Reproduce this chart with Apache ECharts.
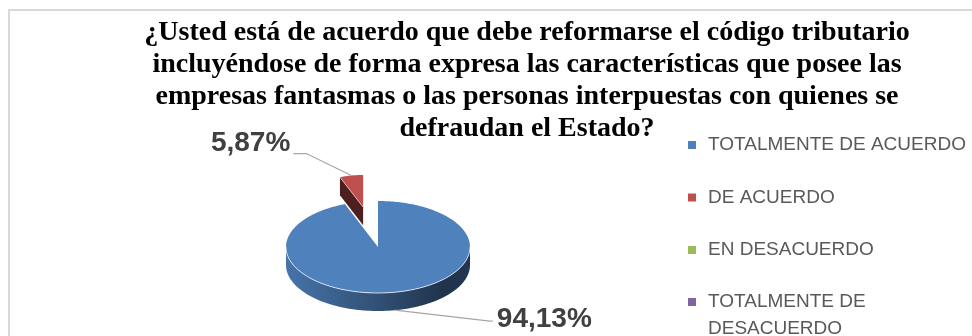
<!DOCTYPE html>
<html><head><meta charset="utf-8">
<script src="https://cdn.jsdelivr.net/npm/echarts@6/dist/echarts.min.js"></script>
<style>html,body{margin:0;padding:0;background:#fff}#c{width:972px;height:336px}</style>
</head><body><div id="c"></div>
<script>
const titleText = '¿Usted está de acuerdo que debe reformarse el código tributario\nincluyéndose de forma expresa las características que posee las\nempresas fantasmas o las personas interpuestas con quienes se\ndefraudan el Estado?';
const categories = ['TOTALMENTE DE ACUERDO', 'DE ACUERDO', 'EN DESACUERDO', 'TOTALMENTE DE DESACUERDO'];
const values = [94.13, 5.87, 0, 0];
const colors = ['#4F81BD', '#C0504D', '#9BBB59', '#8064A2'];
const explodeDist = [0, 81, 0, 0];
const sliceScale = [1, 0.7, 1, 1];
const leaderOffset = [[95, 11, 3], [-45, -22, -13], [0, 0, 0], [0, 0, 0]];
const labelDy = [-2, -10, 0, 0];

const PIE = { cx: 378, cy: 247, rx: 92, ry: 46, depth: 18 };
const total = values.reduce((a, b) => a + b, 0);

function fmtPct(v) { return v.toFixed(2).replace('.', ',') + '%'; }
function shade(hex, f) {
  const n = parseInt(hex.slice(1), 16);
  const r = (n >> 16) & 255, g = (n >> 8) & 255, b = n & 255;
  const c = x => Math.max(0, Math.min(255, Math.round(x * f)));
  return 'rgb(' + c(r) + ',' + c(g) + ',' + c(b) + ')';
}

function renderItem(params, api) {
  const i = params.seriesIndex;
  const v = api.value(0);
  if (!v) return { type: 'group', children: [] };
  let before = 0;
  for (let k = 0; k < i; k++) before += values[k];
  const a0 = before / total * 2 * Math.PI, a1 = (before + v) / total * 2 * Math.PI;
  const am = (a0 + a1) / 2;
  const ratio = PIE.ry / PIE.rx;
  const sx = PIE.cx + explodeDist[i] * Math.sin(am);
  const sy = PIE.cy - explodeDist[i] * Math.cos(am) * ratio;
  const Rx = PIE.rx * sliceScale[i], Ry = PIE.ry * sliceScale[i], D = PIE.depth;
  const pt = (a, dy) => [sx + Rx * Math.sin(a), sy - Ry * Math.cos(a) + (dy || 0)];
  const arc = (lo, hi, dy) => {
    const n = Math.max(2, Math.ceil((hi - lo) / 0.02));
    const out = [];
    for (let k = 0; k <= n; k++) out.push(pt(lo + (hi - lo) * k / n, dy));
    return out;
  };
  const color = colors[i];
  const children = [];
  const faceColor = shade(color, 0.4);
  if (Math.sin(a0) < -1e-6) children.push({ type: 'polygon', shape: { points: [[sx, sy], pt(a0), pt(a0, D), [sx, sy + D]] }, style: { fill: faceColor } });
  if (Math.sin(a1) > 1e-6) children.push({ type: 'polygon', shape: { points: [[sx, sy], pt(a1), pt(a1, D), [sx, sy + D]] }, style: { fill: faceColor } });
  const lo = Math.max(a0, Math.PI / 2), hi = Math.min(a1, 1.5 * Math.PI);
  if (hi > lo) {
    const top = arc(lo, hi, 0);
    const bot = arc(lo, hi, D).reverse();
    children.push({ type: 'polygon', shape: { points: top.concat(bot) }, style: {
      fill: new echarts.graphic.LinearGradient(sx - Rx, 0, sx + Rx, 0, [
        { offset: 0, color: shade(color, 0.9) },
        { offset: 0.5, color: shade(color, 0.62) },
        { offset: 0.85, color: shade(color, 0.4) },
        { offset: 1, color: shade(color, 0.42) }], true) } });
  }
  children.push({ type: 'polygon', shape: { points: [[sx, sy]].concat(arc(a0, a1, 0)) }, style: { fill: color } });
  if (hi > lo) children.push({ type: 'polyline', shape: { points: arc(lo, hi, 0) }, style: { stroke: 'rgba(255,255,255,0.75)', lineWidth: 1, fill: null } });
  if (Math.sin(a0) < -1e-6) children.push({ type: 'polyline', shape: { points: [[sx, sy], pt(a0)] }, style: { stroke: 'rgba(255,255,255,0.5)', lineWidth: 1, fill: null } });
  const front = Math.cos(am) < 0;
  const anc = pt(am, front ? D : 0);
  const off = leaderOffset[i];
  const elbow = [anc[0] + off[0], anc[1] + off[1]];
  const end = [elbow[0] + off[2], elbow[1]];
  children.push({ type: 'polyline', shape: { points: [anc, elbow, end] }, style: { stroke: '#a6a6a6', lineWidth: 1.3, fill: null } });
  const right = off[2] >= 0;
  children.push({ type: 'text', x: end[0] + (right ? 4 : -3), y: end[1] + labelDy[i], style: {
    text: fmtPct(v), fill: '#404040', font: 'bold 28px "Liberation Sans"', align: right ? 'left' : 'right', verticalAlign: 'middle' } });
  return { type: 'group', children };
}

// legend icon for the two-line entry: square aligned with the first text line
const tallIcon = 'path://M0,0L0,0M0,9.5L8,9.5L8,17.5L0,17.5ZM8,54L8,54';

const chart = echarts.init(document.getElementById('c'), null, { renderer: 'canvas' });
chart.setOption({
  animation: false,
  color: colors,
  title: {
    text: titleText, left: 522, textAlign: 'center', top: 12,
    textStyle: { fontFamily: 'Liberation Serif', fontWeight: 'bold', fontSize: 28, lineHeight: 32, color: '#000' }
  },
  legend: [
    { data: categories.slice(0, 3), orient: 'vertical', left: 688, top: 132, padding: 0, icon: 'rect', itemWidth: 8, itemHeight: 8, itemGap: 26.5,
      textStyle: { fontFamily: 'Liberation Sans', fontSize: 19, lineHeight: 26, color: '#595959', padding: [0, 0, 0, 7] } },
    { data: categories.slice(3), orient: 'vertical', left: 688, top: 288.5, padding: 0, icon: tallIcon, itemWidth: 8, itemHeight: 54,
      textStyle: { fontFamily: 'Liberation Sans', fontSize: 19, lineHeight: 27, color: '#595959', padding: [0, 0, 0, 7], width: 262, overflow: 'break' } }
  ],
  graphic: [{ type: 'rect', x: 9, y: 10, shape: { width: 990, height: 360 }, style: { fill: null, stroke: '#d9d9d9', lineWidth: 2 }, silent: true, z: -10 }],
  series: categories.map((name, i) => ({
    type: 'custom', name, coordinateSystem: 'none', renderItem, silent: true,
    data: [[values[i]]], z: explodeDist[i] > 0 ? 1 : 2
  }))
});
</script></body></html>
